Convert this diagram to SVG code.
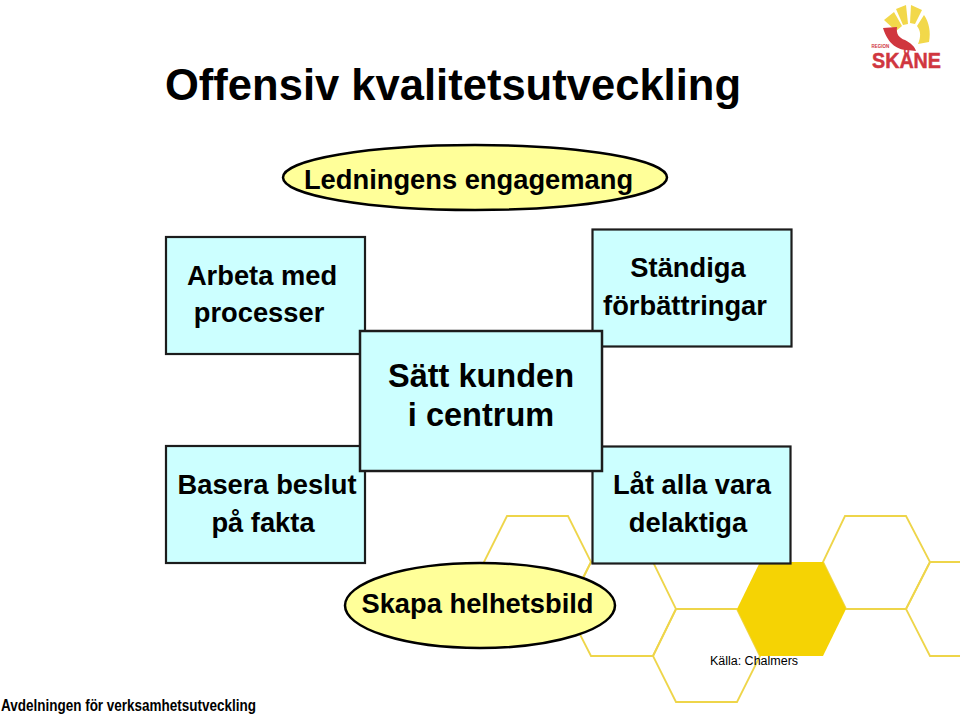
<svg xmlns="http://www.w3.org/2000/svg" width="960" height="714" viewBox="0 0 960 714">
<style>
text{font-family:"Liberation Sans",Arial,sans-serif;fill:#000;text-anchor:middle}
.b{font-weight:bold;font-size:27.300px}
.c{font-weight:bold;font-size:32.500px}
.box{fill:#ccffff;stroke:#1c1c1c;stroke-width:2.200}
.el{fill:#ffff99;stroke:#000;stroke-width:2.500}
.hex{fill:none;stroke:#eed54a;stroke-width:1.800}
.y{fill:#f2d84a}
.r{fill:#d0363f}
</style>
<rect width="960" height="714" fill="#fff"/>
<g id="honeycomb">
<path class="hex" d="M484,562L507,516H568L591,562L568,609H507Z"/>
<path class="hex" d="M567,609L591,562H653L676,609L653,656H591Z"/>
<path class="hex" d="M653,656L676,609H737L760,656L737,702H676Z"/>
<path class="hex" d="M823,562L845,516H906L930,562L906,609H846Z"/>
<path class="hex" d="M960,562H930L906,609L930,656H960"/>
<path d="M737,609L760,562H823L846,609L823,656H760Z" fill="#f5d304"/>
</g>
<g id="title"><text x="453" y="100" font-size="44" style="font-weight:bold" textLength="576" lengthAdjust="spacingAndGlyphs">Offensiv kvalitetsutveckling</text></g>
<g id="logo">
<path class="y" d="M884,20L894,12L902,26L896,31Z"/>
<path class="y" d="M896,9L906,5L908,24L903,25Z"/>
<path class="y" d="M911,5L922,10L915,24L910,23Z"/>
<path class="y" d="M924,15C929,22 931,32 929,42L918,44C921,37 921,31 917,26Z"/>
<path class="r" d="M883,28L897,27C896,34 899,38 905,40C911,43 915,47 916,51L907,50C899,50 888,45 883,28Z"/>
<text x="906.500" y="68" font-size="21.500" style="font-weight:bold;fill:#d0363f;stroke:#d0363f;stroke-width:.5" textLength="69" lengthAdjust="spacingAndGlyphs">SKÅNE</text>
<text x="880.500" y="47.500" font-size="4.500" style="font-weight:bold;fill:#d0363f">REGION</text>
</g>
<g id="ledningens">
<ellipse class="el" cx="475" cy="177.500" rx="192" ry="32.500"/>
<text class="b" x="468.500" y="189">Ledningens engagemang</text>
</g>
<g id="arbeta">
<rect class="box" x="166" y="237" width="199" height="117"/>
<text class="b" x="262" y="285">Arbeta med</text>
<text class="b" x="259" y="322">processer</text>
</g>
<g id="standiga">
<rect class="box" x="592.500" y="229.500" width="199" height="117"/>
<text class="b" x="688" y="277">Ständiga</text>
<text class="b" x="685" y="315">förbättringar</text>
</g>
<g id="basera">
<rect class="box" x="166" y="446" width="199" height="117"/>
<text class="b" x="267" y="494">Basera beslut</text>
<text class="b" x="263" y="532">på fakta</text>
</g>
<g id="lat">
<rect class="box" x="592.500" y="446.500" width="198" height="117"/>
<text class="b" x="692" y="494">Låt alla vara</text>
<text class="b" x="688" y="532">delaktiga</text>
</g>
<g id="kunden">
<rect class="box" x="360" y="331" width="242" height="140" style="stroke-width:2.500"/>
<text class="c" x="481" y="387">Sätt kunden</text>
<text class="c" x="481" y="426">i centrum</text>
</g>
<g id="skapa">
<ellipse class="el" cx="480" cy="605.500" rx="135" ry="42.500"/>
<text class="b" x="477.500" y="613">Skapa helhetsbild</text>
</g>
<g id="connectors"></g>
<g id="source"><text x="754" y="665" font-size="12.500">Källa: Chalmers</text></g>
<g id="footer"><text x="128.500" y="711" font-size="16" style="font-weight:bold" textLength="255" lengthAdjust="spacingAndGlyphs">Avdelningen för verksamhetsutveckling</text></g>
</svg>
